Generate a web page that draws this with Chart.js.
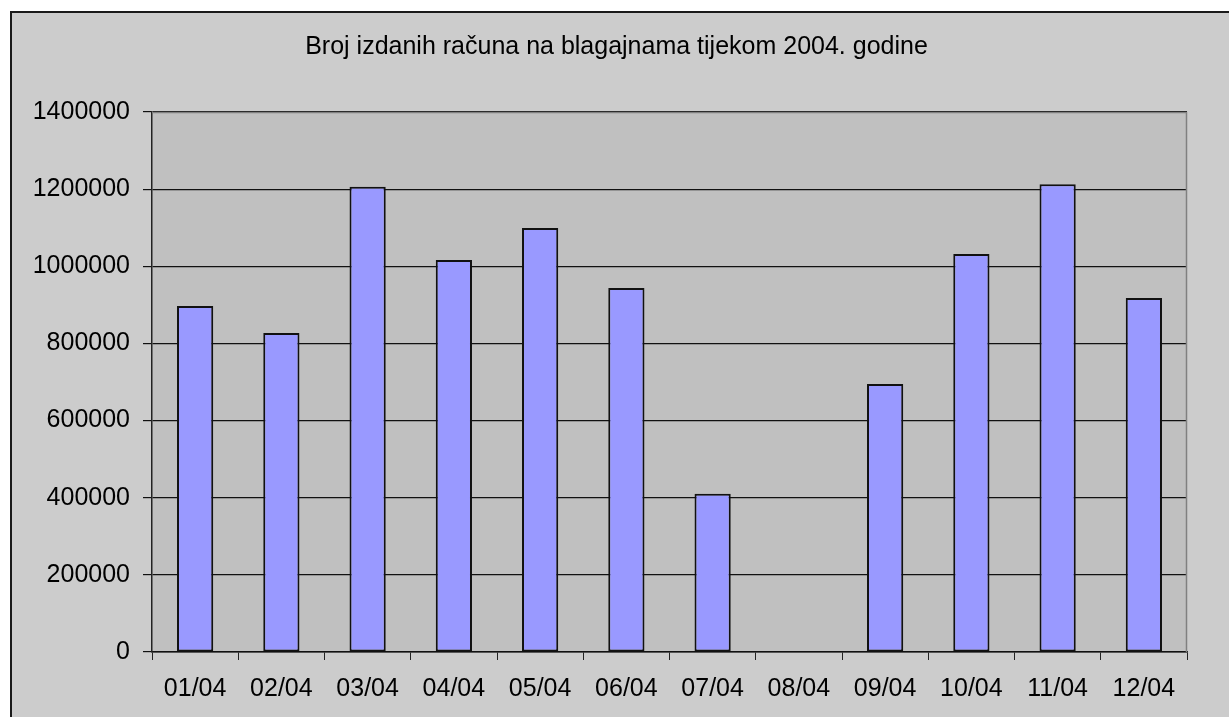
<!DOCTYPE html>
<html>
<head>
<meta charset="utf-8">
<script src="https://cdn.jsdelivr.net/npm/chart.js@4"></script>
<style>
  body { margin: 0; background: #ffffff; }
  #okvir {
    position: absolute;
    left: 10px;
    top: 11px;
    width: 1217px;
    height: 704px;
    background: #cccccc;
    border-left: 2px solid #1a1a1a;
    border-top: 2px solid #1a1a1a;
  }
</style>
</head>
<body>
<div id="okvir">
  <canvas id="myChart" width="1217" height="704"></canvas>
</div>
<script>
  // mjeseci i broj izdanih racuna
  const mjeseci = ['01/04', '02/04', '03/04', '04/04', '05/04', '06/04', '07/04', '08/04', '09/04', '10/04', '11/04', '12/04'];
  const racuni = [897000, 827000, 1206000, 1016000, 1099000, 944000, 410000, 0, 695000, 1032000, 1213000, 918000];
  const naslov = 'Broj izdanih računa na blagajnama tijekom 2004. godine';

  const font = '"Liberation Sans", Arial, sans-serif';

  // siva pozadina podrucja grafa, rub gore/desno i naslov
  const pozadina = {
    id: 'pozadina',
    beforeDraw(chart) {
      const { ctx, chartArea: a } = chart;
      ctx.save();
      ctx.fillStyle = '#c0c0c0';
      ctx.fillRect(a.left, a.top, a.right - a.left, a.bottom - a.top);
      ctx.restore();
    },
    afterDatasetsDraw(chart) {
      const { ctx, chartArea: a } = chart;
      ctx.save();
      ctx.strokeStyle = '#808080';
      ctx.lineWidth = 1.5;
      ctx.beginPath();
      ctx.moveTo(a.left, a.top + 0.5);
      ctx.lineTo(a.right - 0.5, a.top + 0.5);
      ctx.lineTo(a.right - 0.5, a.bottom);
      ctx.stroke();
      ctx.restore();
    },
    afterDraw(chart) {
      const ctx = chart.ctx;
      ctx.save();
      ctx.fillStyle = '#000';
      ctx.font = '25px ' + font;
      ctx.textAlign = 'center';
      ctx.textBaseline = 'middle';
      ctx.fillText(naslov, 604.5, 34);
      ctx.restore();
    }
  };

  const ctx = document.getElementById('myChart');

  new Chart(ctx, {
    type: 'bar',
    data: {
      labels: mjeseci,
      datasets: [{
        data: racuni,
        backgroundColor: '#9999ff',
        borderColor: '#111111',
        borderWidth: 2,
        borderSkipped: false,
        barPercentage: 0.42,
        categoryPercentage: 1
      }]
    },
    options: {
      responsive: false,
      animation: false,
      layout: { padding: { left: 0, right: 42, top: 99, bottom: 0 } },
      plugins: {
        legend: { display: false },
        tooltip: { enabled: false },
        title: { display: false }
      },
      scales: {
        x: {
          offset: true,
          grid: {
            offset: true,
            drawOnChartArea: false,
            drawTicks: true,
            tickLength: 8,
            color: '#222'
          },
          border: { color: '#111', width: 1.5 },
          ticks: {
            color: '#000',
            padding: 14,
            maxRotation: 0,
            font: { family: font, size: 25 }
          },
          afterFit(axis) { axis.height = 65; }
        },
        y: {
          min: 0,
          max: 1400000,
          grid: {
            color: '#111',
            lineWidth: 1.2,
            tickLength: 9
          },
          border: { color: '#222', width: 1.5 },
          ticks: {
            stepSize: 200000,
            color: '#000',
            padding: 13,
            font: { family: font, size: 25 },
            callback: v => String(v)
          },
          afterFit(axis) { axis.width = 140; }
        }
      }
    },
    plugins: [pozadina]
  });
</script>
</body>
</html>
